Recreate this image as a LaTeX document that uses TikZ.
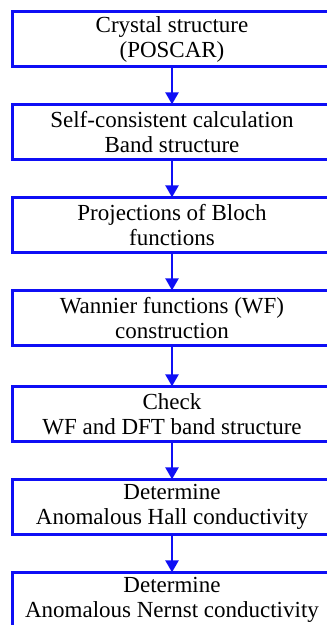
\documentclass[tikz,border=0pt]{standalone}
\usepackage{fontspec}
\setmainfont{Liberation Serif}
\usetikzlibrary{arrows.meta}
\definecolor{flowblue}{RGB}{15,15,245}
\begin{document}
\begin{tikzpicture}[x=1pt,y=1pt,
  stepbox/.style={draw=flowblue, line width=2.2pt, minimum width=319pt, minimum height=55pt,
    inner sep=0pt, align=center, font=\fontsize{23}{25}\selectfont,
    execute at begin node={\rule{0pt}{22pt}}},
  flow/.style={draw=flowblue, line width=2.2pt, -{Triangle[length=12pt,width=13pt]}, shorten >=-1pt}]
\useasboundingbox (0,0) rectangle (327,625);
\node[stepbox] (a) at (172,586) {Crystal structure\\(POSCAR)};
\node[stepbox] (b) at (172,493) {Self-consistent calculation\\Band structure};
\node[stepbox] (c) at (172,400) {Projections of Bloch\\functions};
\node[stepbox] (d) at (172,307) {Wannier functions (WF)\\construction};
\node[stepbox] (e) at (172,211) {Check\\WF and DFT band structure};
\node[stepbox] (f) at (172,118) {Determine\\Anomalous Hall conductivity};
\node[stepbox] (g) at (172,25) {Determine\\Anomalous Nernst conductivity};
\draw[flow] (a) -- (b);
\draw[flow] (b) -- (c);
\draw[flow] (c) -- (d);
\draw[flow] (d) -- (e);
\draw[flow] (e) -- (f);
\draw[flow] (f) -- (g);
\end{tikzpicture}
\end{document}
